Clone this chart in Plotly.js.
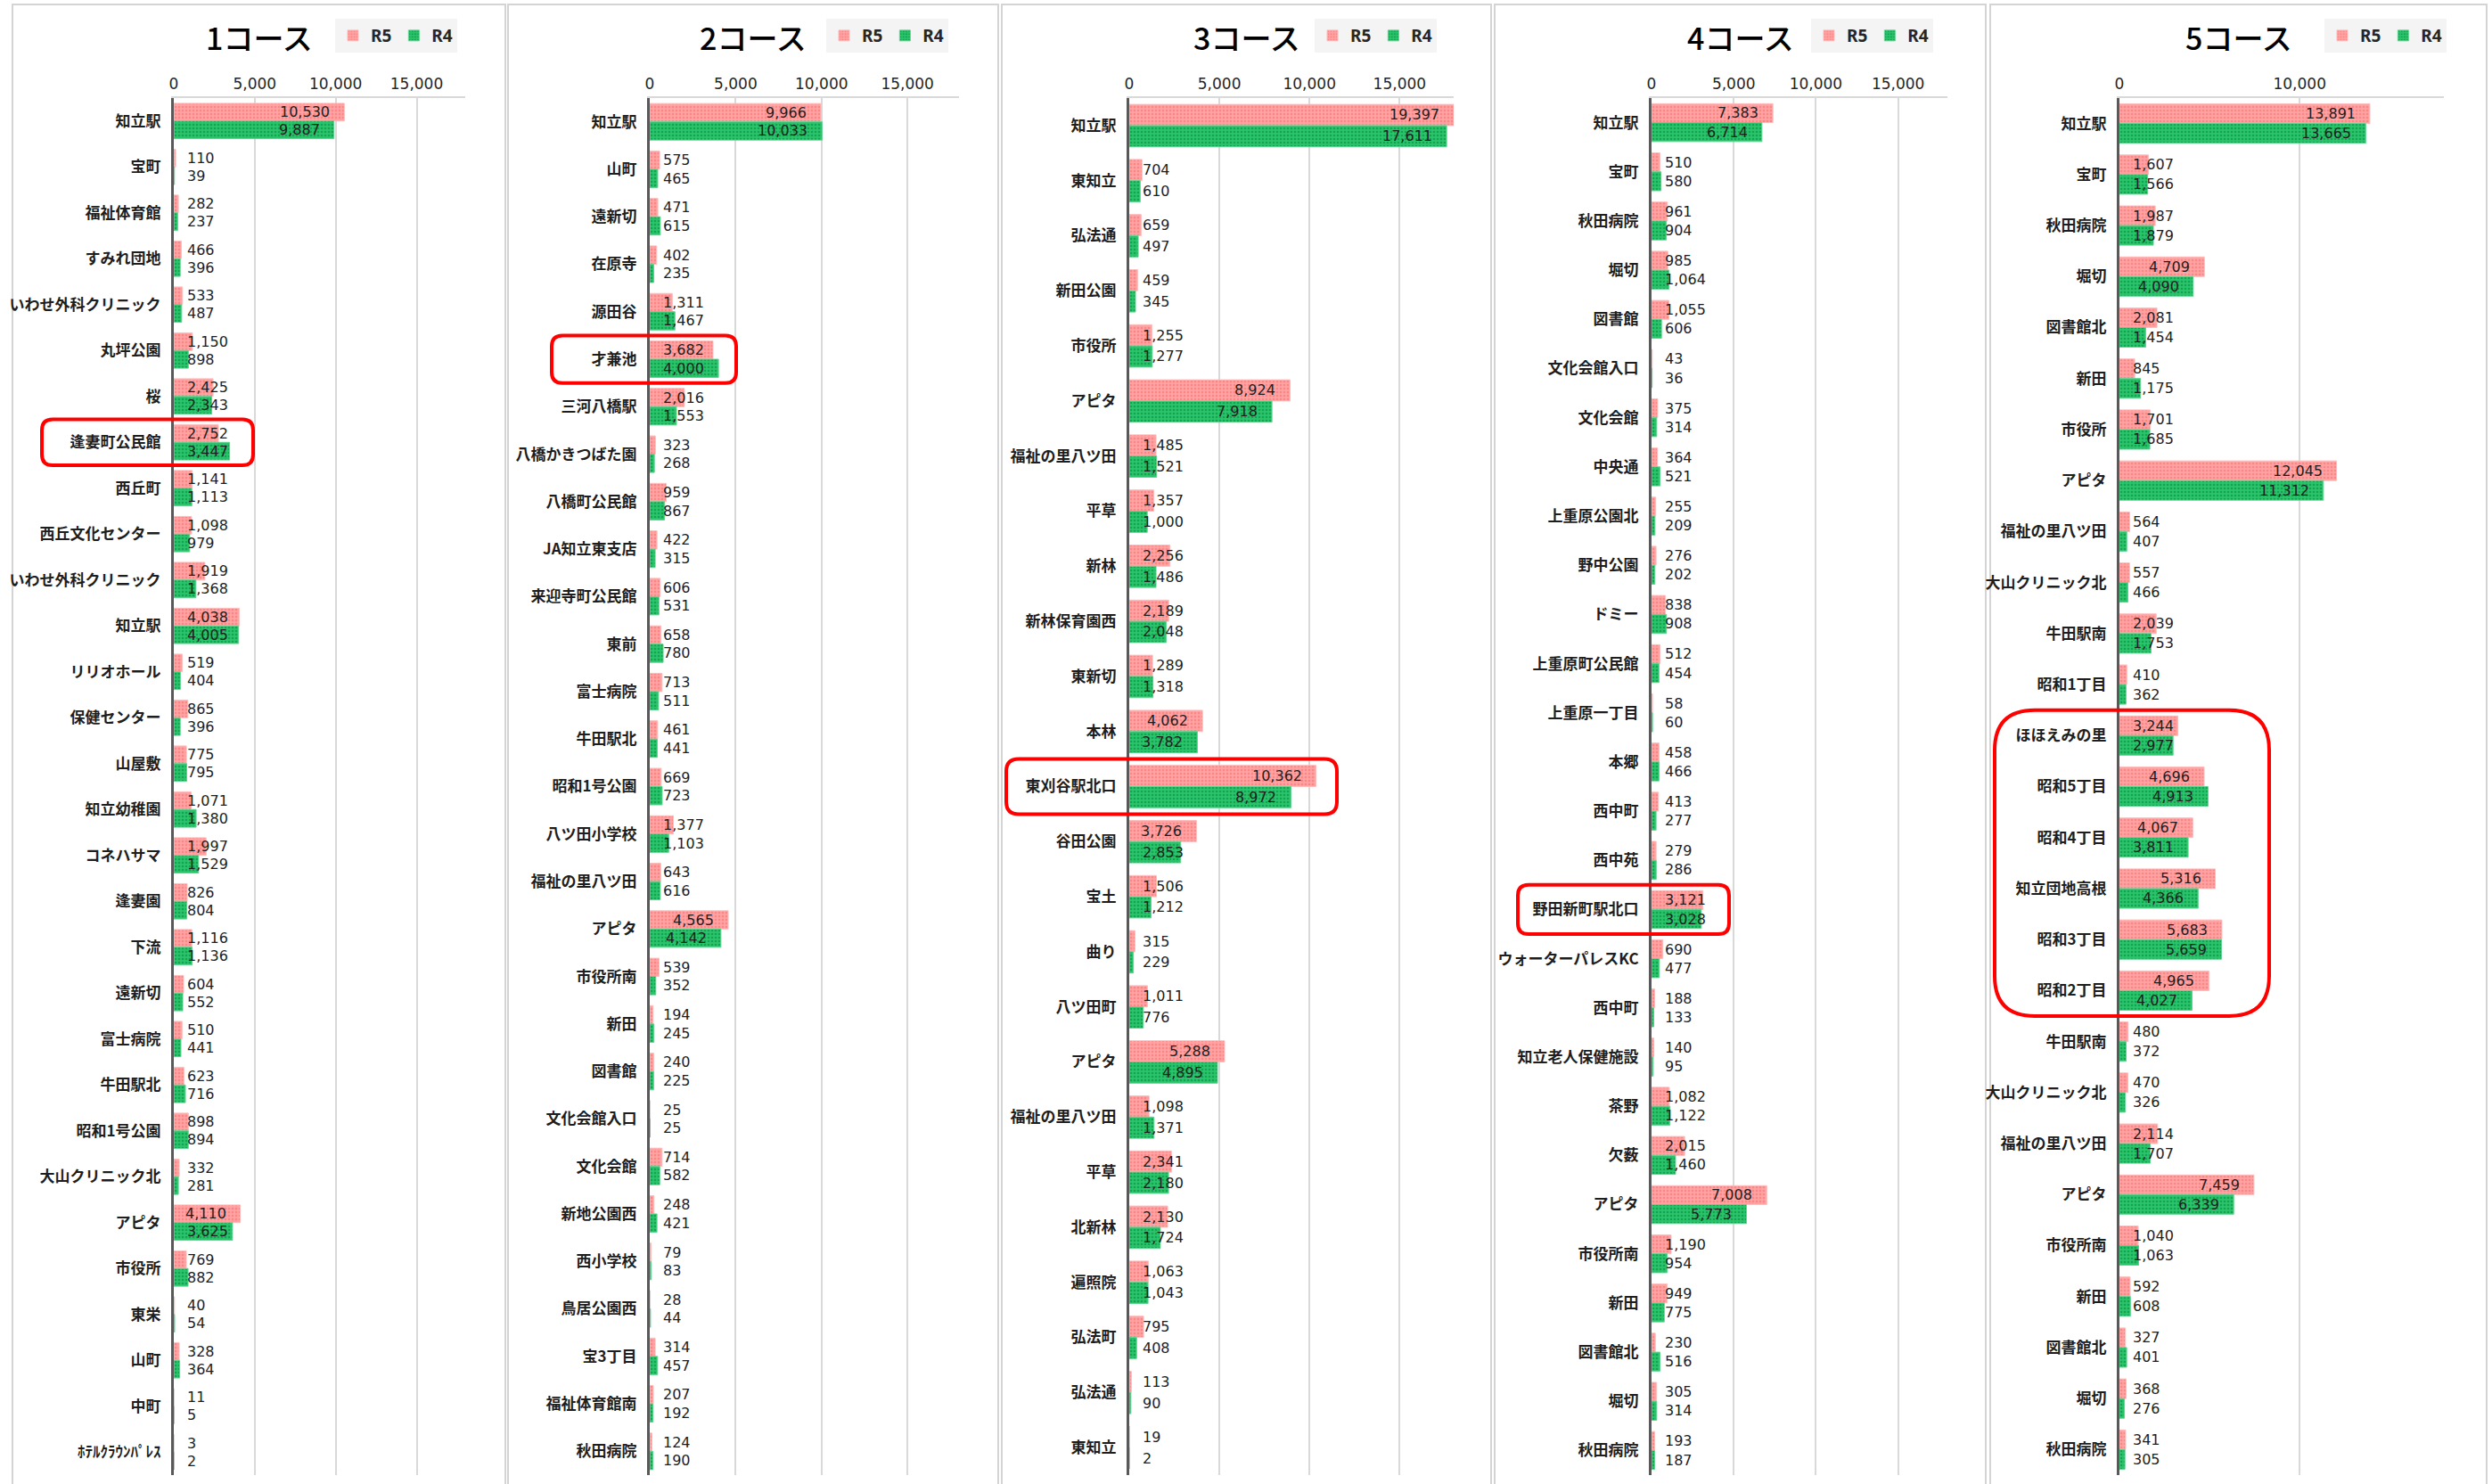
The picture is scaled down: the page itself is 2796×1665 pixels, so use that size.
<!DOCTYPE html>
<html>
<head>
<meta charset="utf-8">
<script src="https://cdn.plot.ly/plotly-3.0.1.min.js"></script>
<style>html,body{margin:0;padding:0;background:#fff;}#chart{width:2796px;height:1665px;}</style>
</head>
<body>
<div id="chart"></div>
<script>
// ---------- DATA ----------
const courseTitles = ["1コース", "2コース", "3コース", "4コース", "5コース"];
const seriesNames = ["R5", "R4"];

const stops1 = ["知立駅","宝町","福祉体育館","すみれ団地","いわせ外科クリニック","丸坪公園","桜","逢妻町公民館","西丘町","西丘文化センター","いわせ外科クリニック","知立駅","リリオホール","保健センター","山屋敷","知立幼稚園","コネハサマ","逢妻園","下流","遠新切","富士病院","牛田駅北","昭和1号公園","大山クリニック北","アピタ","市役所","東栄","山町","中町","ﾎﾃﾙｸﾗｳﾝﾊﾟﾚｽ"];
const r5_1 = [10530,110,282,466,533,1150,2425,2752,1141,1098,1919,4038,519,865,775,1071,1997,826,1116,604,510,623,898,332,4110,769,40,328,11,3];
const r4_1 = [9887,39,237,396,487,898,2343,3447,1113,979,1368,4005,404,396,795,1380,1529,804,1136,552,441,716,894,281,3625,882,54,364,5,2];

const stops2 = ["知立駅","山町","遠新切","在原寺","源田谷","才兼池","三河八橋駅","八橋かきつばた園","八橋町公民館","JA知立東支店","来迎寺町公民館","東前","富士病院","牛田駅北","昭和1号公園","八ツ田小学校","福祉の里八ツ田","アピタ","市役所南","新田","図書館","文化会館入口","文化会館","新地公園西","西小学校","鳥居公園西","宝3丁目","福祉体育館南","秋田病院"];
const r5_2 = [9966,575,471,402,1311,3682,2016,323,959,422,606,658,713,461,669,1377,643,4565,539,194,240,25,714,248,79,28,314,207,124];
const r4_2 = [10033,465,615,235,1467,4000,1553,268,867,315,531,780,511,441,723,1103,616,4142,352,245,225,25,582,421,83,44,457,192,190];

const stops3 = ["知立駅","東知立","弘法通","新田公園","市役所","アピタ","福祉の里八ツ田","平草","新林","新林保育園西","東新切","本林","東刈谷駅北口","谷田公園","宝土","曲り","八ツ田町","アピタ","福祉の里八ツ田","平草","北新林","遍照院","弘法町","弘法通","東知立"];
const r5_3 = [19397,704,659,459,1255,8924,1485,1357,2256,2189,1289,4062,10362,3726,1506,315,1011,5288,1098,2341,2130,1063,795,113,19];
const r4_3 = [17611,610,497,345,1277,7918,1521,1000,1486,2048,1318,3782,8972,2853,1212,229,776,4895,1371,2180,1724,1043,408,90,2];

const stops4 = ["知立駅","宝町","秋田病院","堀切","図書館","文化会館入口","文化会館","中央通","上重原公園北","野中公園","ドミー","上重原町公民館","上重原一丁目","本郷","西中町","西中苑","野田新町駅北口","ウォーターパレスKC","西中町","知立老人保健施設","茶野","欠薮","アピタ","市役所南","新田","図書館北","堀切","秋田病院"];
const r5_4 = [7383,510,961,985,1055,43,375,364,255,276,838,512,58,458,413,279,3121,690,188,140,1082,2015,7008,1190,949,230,305,193];
const r4_4 = [6714,580,904,1064,606,36,314,521,209,202,908,454,60,466,277,286,3028,477,133,95,1122,1460,5773,954,775,516,314,187];

const stops5 = ["知立駅","宝町","秋田病院","堀切","図書館北","新田","市役所","アピタ","福祉の里八ツ田","大山クリニック北","牛田駅南","昭和1丁目","ほほえみの里","昭和5丁目","昭和4丁目","知立団地高根","昭和3丁目","昭和2丁目","牛田駅南","大山クリニック北","福祉の里八ツ田","アピタ","市役所南","新田","図書館北","堀切","秋田病院"];
const r5_5 = [13891,1607,1987,4709,2081,845,1701,12045,564,557,2039,410,3244,4696,4067,5316,5683,4965,480,470,2114,7459,1040,592,327,368,341];
const r4_5 = [13665,1566,1879,4090,1454,1175,1685,11312,407,466,1753,362,2977,4913,3811,4366,5659,4027,372,326,1707,6339,1063,608,401,276,305];

// highlighted stops (first index, last index) per course
const highlightFrom = [7, 5, 12, 16, 12];
const highlightTo   = [7, 5, 12, 16, 17];

// ---------- LAYOUT / STYLE ----------
const W = 2796, H = 1665;
const PLOT_TOP = 110, PLOT_BOTTOM = 1655;
const XMAX = 18000;
const panelBox = [[14,567],[570,1120],[1124,1673],[1677,2228],[2233,2790]];
const axisPx   = [[195,522],[729,1076],[1267,1631],[1853,2185],[2378,2742]];
const legendRight = [513,1064,1612,2169,2745];
const dticks = [5000,5000,5000,5000,10000];
const hlX = [[47,284],[619,826],[1129,1500],[1703,1940],[2238,2546]];
const hlR = [12,12,14,12,45];

const courses = [
  {stops: stops1, r5: r5_1, r4: r4_1},
  {stops: stops2, r5: r5_2, r4: r4_2},
  {stops: stops3, r5: r5_3, r4: r4_3},
  {stops: stops4, r5: r5_4, r4: r4_4},
  {stops: stops5, r5: r5_5, r4: r4_5}
];

const BARGAP = 0.23;
const styleR5 = {color:'#ff9b9b', pattern:{shape:'.', fgcolor:'#ff8585', bgcolor:'#ffa3a3', size:4, solidity:0.35}, line:{color:'#ffbcbc', width:1}};
const styleR4 = {color:'#22b862', pattern:{shape:'.', fgcolor:'#14a34f', bgcolor:'#2ac46c', size:4, solidity:0.35}, line:{color:'#5fd592', width:1}};
const LABEL_FONT = {family:'DejaVu Sans', size:16, color:'#1e1e1e'};

function fmt(v){ return v.toLocaleString('en-US'); }
function textWidth(s){ // approx DejaVu Sans 16px
  let w = 0; for (const ch of s) w += (ch === ',') ? 5.1 : 10.2; return w;
}

const traces = [];
const annotations = [];
const shapes = [];
const layout = {
  width: W, height: H,
  margin: {l:0, r:0, t:0, b:0},
  paper_bgcolor: '#ffffff', plot_bgcolor: '#ffffff',
  barmode: 'group', bargap: BARGAP, bargroupgap: 0,
  font: {family: 'Noto Sans CJK JP, Noto Sans, sans-serif', color:'#262626'},
  annotations: annotations, shapes: shapes
};

courses.forEach((c, p) => {
  const k = p === 0 ? '' : String(p + 1);
  const n = c.stops.length;
  const idx = c.stops.map((_, i) => i);
  const [zx, rx] = axisPx[p];
  const ppu = (rx - zx) / XMAX;            // pixels per unit
  const ppy = (PLOT_BOTTOM - PLOT_TOP) / n; // pixels per category
  const legendKey = 'legend' + k;

  [[c.r5, styleR5, seriesNames[0]], [c.r4, styleR4, seriesNames[1]]].forEach(([vals, st, nm]) => {
    traces.push({
      type: 'bar', orientation: 'h', name: nm,
      x: vals, y: idx,
      xaxis: 'x' + k, yaxis: 'y' + k,
      legend: legendKey,
      marker: st, hoverinfo: 'x+name',
      showlegend: true
    });
  });

  layout['xaxis' + k] = {
    domain: [zx / W, rx / W], anchor: 'y' + k, side: 'top',
    range: [0, XMAX], type: 'linear', dtick: dticks[p], tick0: 0,
    tickformat: ',d', showgrid: true, gridcolor: '#d9d9d9', gridwidth: 2,
    zeroline: false, showline: true, linecolor: '#d9d9d9', linewidth: 2,
    ticks: '', ticklabelstandoff: 1,
    tickfont: {family: 'DejaVu Sans', size: 17, color: '#262626'},
    fixedrange: true
  };
  layout['yaxis' + k] = {
    domain: [1 - PLOT_BOTTOM / H, 1 - PLOT_TOP / H], anchor: 'x' + k,
    type: 'linear', range: [n - 0.5, -0.5],
    tickmode: 'array', tickvals: idx, ticktext: c.stops,
    showgrid: false, zeroline: false, showline: true, linecolor: '#595959', linewidth: 3,
    ticks: '', ticklabelstandoff: 8,
    tickfont: {family: 'Noto Sans CJK JP', size: 17, color: '#1e1e1e', weight: 'bold'},
    fixedrange: true
  };
  layout[legendKey] = {
    orientation: 'h', x: legendRight[p] / W, xanchor: 'right',
    y: 1 - 40 / H, yanchor: 'middle', bgcolor: '#f4f4f4',
    font: {family: 'Noto Sans', size: 19, color: '#262626', weight: 'bold'},
    itemwidth: 30, traceorder: 'normal', tracegroupgap: 0
  };

  // course title
  annotations.push({
    xref: 'paper', yref: 'paper',
    x: (panelBox[p][0] + panelBox[p][1]) / 2 / W, y: 1 - 42 / H,
    xanchor: 'center', yanchor: 'middle', showarrow: false,
    text: courseTitles[p],
    font: {family: 'Noto Sans CJK JP', size: 34, color: '#000000', weight: 500}
  });

  // value labels
  const half = (1 - BARGAP) / 4;
  [[c.r5, -half], [c.r4, half]].forEach(([vals, off]) => {
    vals.forEach((v, i) => {
      const s = fmt(v);
      const w = textWidth(s);
      const barPx = Math.min(v, XMAX) * ppu;
      const inside = barPx >= 28 + w;
      annotations.push({
        xref: 'x' + k, yref: 'y' + k,
        x: inside ? Math.min(v, XMAX) : 0,
        y: i + off,
        xanchor: inside ? 'right' : 'left', yanchor: 'middle',
        xshift: inside ? -14 : 13,
        showarrow: false, text: s, font: LABEL_FONT
      });
    });
  });

  // panel border
  shapes.push({
    type: 'rect', xref: 'paper', yref: 'paper',
    x0: panelBox[p][0] / W, x1: panelBox[p][1] / W,
    y0: -0.05, y1: 1 - 5 / H,
    line: {color: '#d4d4d4', width: 2}, layer: 'below'
  });

  // highlight rounded rectangle
  const x0 = hlX[p][0] / W, x1 = hlX[p][1] / W;
  const top = highlightFrom[p] - 0.5, bot = highlightTo[p] + 0.5;
  const rxp = hlR[p] / W, ryd = hlR[p] / ppy;
  const path = `M ${x0 + rxp},${top} L ${x1 - rxp},${top} Q ${x1},${top} ${x1},${top + ryd} ` +
               `L ${x1},${bot - ryd} Q ${x1},${bot} ${x1 - rxp},${bot} ` +
               `L ${x0 + rxp},${bot} Q ${x0},${bot} ${x0},${bot - ryd} ` +
               `L ${x0},${top + ryd} Q ${x0},${top} ${x0 + rxp},${top} Z`;
  shapes.push({
    type: 'path', xref: 'paper', yref: 'y' + k, path: path,
    line: {color: '#ff0000', width: 4}, layer: 'above'
  });
});

Plotly.newPlot('chart', traces, layout, {displayModeBar: false, staticPlot: true});
</script>
</body>
</html>
